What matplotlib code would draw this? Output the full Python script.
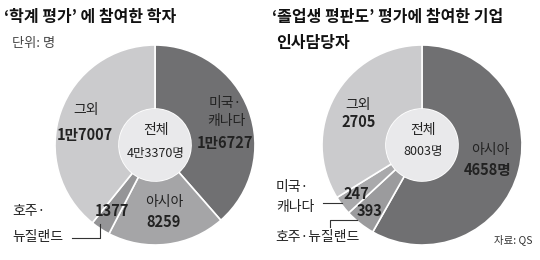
import matplotlib
matplotlib.use("Agg")
import matplotlib.pyplot as plt
from matplotlib.patches import Circle

plt.rcParams['font.family'] = ['Noto Sans CJK KR', 'DejaVu Sans']

# Data
left_labels = ['미국·캐나다', '아시아', '호주·뉴질랜드', '그외']
left_values = [16727, 8259, 1377, 17007]
left_colors = ['#707072', '#a5a5a7', '#959597', '#cbcbcd']

right_labels = ['아시아', '호주·뉴질랜드', '미국·캐나다', '그외']
right_values = [4658, 393, 247, 2705]
right_colors = ['#707072', '#9b9b9d', '#a9a9ab', '#cbcbcd']

W, H = 540, 260
fig = plt.figure(figsize=(W / 100, H / 100), dpi=100)
ax = fig.add_axes([0, 0, 1, 1])

def Y(y):
    return H - y

R, r_in = 100, 36
for vals, cols, cx, cy in [(left_values, left_colors, 155, 145),
                           (right_values, right_colors, 422, 145)]:
    ax.pie(vals, colors=cols, startangle=90, counterclock=False,
           center=(cx, Y(cy)), radius=R,
           wedgeprops=dict(width=R - r_in, edgecolor='white', linewidth=1.2))
    ax.add_patch(Circle((cx, Y(cy)), r_in, facecolor='#e9e9eb', edgecolor='none', zorder=3))

ax.set_xlim(0, W)
ax.set_ylim(0, H)
ax.set_aspect('auto')
ax.axis('off')

tc = '#222222'
def t(x, y, s, size=9, bold=False, ha='center', color=tc):
    ax.text(x, Y(y), s, fontsize=size, fontweight='bold' if bold else 'normal',
            ha=ha, va='center', color=color, zorder=5)

LS = 10      # label size
NS = 10.5    # number size

# Titles
t(4, 17, '‘학계 평가’ 에 참여한 학자', size=11.5, bold=True, ha='left', color='#111111')
t(12, 43, '단위: 명', size=9.5, ha='left', color='#444444')
t(272, 17, '‘졸업생 평판도’ 평가에 참여한 기업', size=11.5, bold=True, ha='left', color='#111111')
t(276, 43, '인사담당자', size=11.5, bold=True, ha='left', color='#111111')

# Left pie labels
t(86, 110, '그외', size=LS)
t(85, 135, '1만7007', size=NS, bold=True)
t(225, 103, '미국·', size=LS)
t(226, 121, '캐나다', size=LS)
t(225, 143, '1만6727', size=NS, bold=True)
t(156, 130, '전체', size=LS)
t(156, 153, '4만3370명', size=9)
t(164, 202, '아시아', size=LS)
t(164, 222, '8259', size=NS, bold=True)
t(112, 211, '1377', size=NS, bold=True)
t(12, 211, '호주·', size=LS, ha='left')
t(12, 237, '뉴질랜드', size=LS, ha='left')
ax.plot([72, 100, 100], [Y(238), Y(238), Y(224)], color='#333333', lw=0.8, zorder=6)

# Right pie labels
t(358, 105, '그외', size=LS)
t(359, 122, '2705', size=NS, bold=True)
t(423, 130, '전체', size=LS)
t(423, 152, '8003명', size=9)
t(490, 150, '아시아', size=LS)
t(488, 170, '4658명', size=NS, bold=True)
t(356, 194, '247', size=NS, bold=True)
t(370, 211, '393', size=NS, bold=True)
t(276, 187, '미국·', size=LS, ha='left')
t(276, 207, '캐나다', size=LS, ha='left')
ax.plot([323, 342], [Y(203), Y(203)], color='#333333', lw=0.8, zorder=6)
ax.plot([330, 330, 357], [Y(227), Y(220), Y(220)], color='#333333', lw=0.8, zorder=6)
t(275, 237, '호주·뉴질랜드', size=LS, ha='left')
t(532, 240, '자료: QS', size=7.5, ha='right', color='#333333')

fig.savefig('out.png', dpi=100)
